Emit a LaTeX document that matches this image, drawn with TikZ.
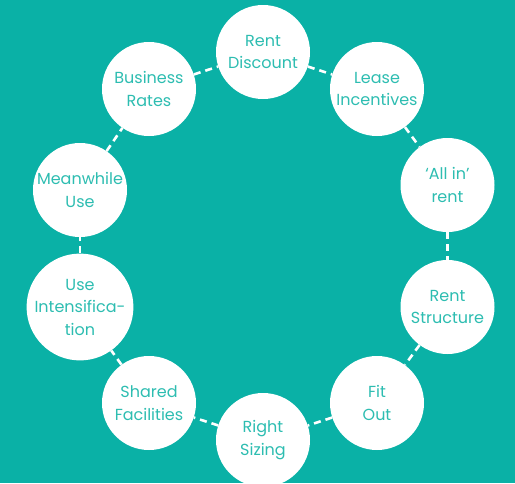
\documentclass[tikz,border=0pt]{standalone}
\usepackage{fontspec}
\setmainfont{Poppins}
\definecolor{bg}{HTML}{0AB1A6}
\definecolor{txt}{HTML}{2DBDB1}
\begin{document}
\begin{tikzpicture}[x=1pt,y=-1pt,
  topic/.style={circle,fill=white,minimum size=94pt,inner sep=0pt,align=center,
    text=txt,font=\fontsize{16}{22.5}\selectfont},
  link/.style={draw=white,line width=2.6pt,dash pattern=on 7pt off 5pt}]
\useasboundingbox (0,0) rectangle (515,483);
\clip (0,0) rectangle (515,483);
\fill[bg] (0,0) rectangle (515,483);
\node[topic] (n0) at (263,52) {Rent\\Discount};
\node[topic] (n1) at (377,89) {Lease\\Incentives};
\node[topic] (n2) at (447.5,185) {‘All in’\\rent};
\node[topic] (n3) at (447.5,307) {Rent\\Structure};
\node[topic] (n4) at (377,403) {Fit\\Out};
\node[topic] (n5) at (263,440) {Right\\Sizing};
\node[topic] (n6) at (149,403) {Shared\\Facilities};
\node[topic] (n7) at (80,307) {Use\\Intensifica-\\tion};
\node[topic] (n8) at (80,190) {Meanwhile\\Use};
\node[topic] (n9) at (149,89) {Business\\Rates};
\foreach \a/\b in {n0/n1,n1/n2,n2/n3,n3/n4,n4/n5,n5/n6,n6/n7,n7/n8,n8/n9,n9/n0}
  \draw[link] (\a) -- (\b);
\end{tikzpicture}
\end{document}
